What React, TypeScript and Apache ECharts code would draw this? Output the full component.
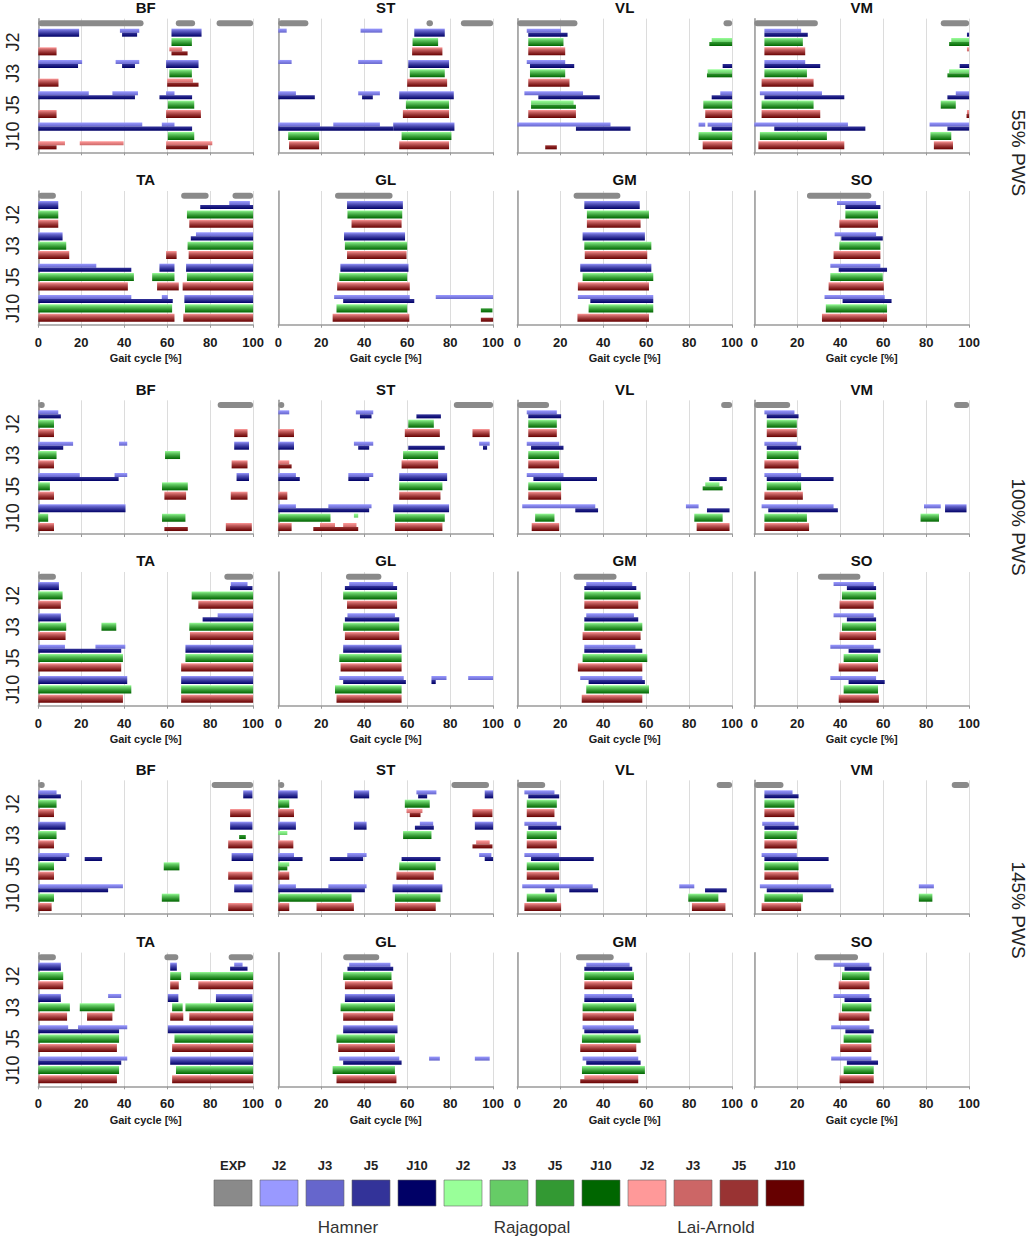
import React, { useEffect, useRef } from "react";
import * as echarts from "echarts";

type Seg = number[];

const SPEEDS = ["55% PWS", "100% PWS", "145% PWS"];
const MUSCLES_UPPER = ["BF", "ST", "VL", "VM"];
const MUSCLES_LOWER = ["TA", "GL", "GM", "SO"];
const JOINTS = ["J2", "J3", "J5", "J10"];
const MODELS = ["Hamner", "Rajagopal", "Lai-Arnold"];
const X_TICKS = [0, 20, 40, 60, 80, 100];
const X_LABEL = "Gait cycle [%]";
const EXP_COLOR = "#8a8a8a";
const MODEL_SHADES = [
  ["#9999ff", "#6666cc", "#333399", "#000066"],
  ["#99ff99", "#66cc66", "#339933", "#006600"],
  ["#ff9999", "#cc6666", "#993333", "#660000"],
];

// Each panel: 13 rows = [EXP, J2 H/R/L, J3 H/R/L, J5 H/R/L, J10 H/R/L]
// Segment: [start, end] full bar; [start, end, 1] upper (light) half; [start, end, 2] lower (dark) half
// ---------- 55% PWS ----------
const BF_55: Seg[][] = [
  [[0, 49], [64, 73], [83, 100]],
  [[0, 19], [38, 47, 1], [39, 46, 2], [62, 76]],
  [[62, 71.5]],
  [[0, 8.5], [61, 67, 1], [62, 69.5, 2]],
  [[0, 20.4, 1], [0, 18.5, 2], [36, 47, 1], [39, 45, 2], [59.5, 74.6]],
  [[61, 71.5]],
  [[0, 9.4], [60, 72, 1], [60, 74.6, 2]],
  [[0, 23.5, 1], [34.5, 46.4, 1], [0, 45, 2], [59.5, 63.4, 1], [56.4, 71.6, 2]],
  [[60.3, 72.6]],
  [[0, 8.5], [59.5, 75.7]],
  [[0, 48.4, 1], [57.5, 63.4, 1], [0, 71.6, 2]],
  [[60.3, 72.6]],
  [[0, 12.4, 1], [0, 8.5, 2], [19.3, 39.7, 1], [59.5, 81, 1], [59.5, 79, 2]],
];
const ST_55: Seg[][] = [
  [[0, 14], [69, 72], [85, 100]],
  [[0, 3.9, 1], [38.3, 48.4, 1], [63.3, 77.5]],
  [[62.5, 74.4]],
  [[62.3, 76.4]],
  [[0, 6.2, 1], [37.2, 48.4, 1], [60.5, 79.5]],
  [[61.2, 77.5]],
  [[60, 78.6]],
  [[0, 8.2, 1], [0, 17, 2], [37.2, 47.3, 1], [39, 44, 2], [56.3, 81.7]],
  [[59.4, 79.5]],
  [[58, 79.5]],
  [[0, 19.4, 1], [25.6, 47.3, 1], [0, 53.5, 2], [53.5, 82]],
  [[4.6, 19], [57.4, 80.6]],
  [[5, 19], [56.3, 79.5]],
];
const VL_55: Seg[][] = [
  [[0, 28], [96, 100]],
  [[4.4, 20.3, 1], [5.1, 23.4, 2]],
  [[5.1, 21.5], [90.5, 100, 1], [89.4, 100, 2]],
  [[5.1, 22.3]],
  [[4.4, 22.3, 1], [5.9, 26.5, 2], [95.6, 100, 2]],
  [[5.9, 22.3], [88.6, 100, 1], [88.3, 100, 2]],
  [[5.1, 24.3]],
  [[3.3, 30.6, 1], [9.8, 38.4, 2], [94.5, 100, 1], [90.5, 100, 2]],
  [[6.4, 26.2, 1], [6.4, 27.3, 2], [86.6, 100]],
  [[5.1, 27.3], [87.5, 100]],
  [[0, 43.4, 1], [27.3, 52.7, 2], [84.4, 87.5, 1], [88.6, 100, 1], [90.5, 100, 2]],
  [[84.4, 100]],
  [[13, 18.4, 2], [86.3, 100]],
];
const VM_55: Seg[][] = [
  [[0, 29.6], [86.8, 100]],
  [[4.7, 21.8, 1], [4.7, 24.9, 2], [99, 100, 2]],
  [[4.7, 22.6], [91.7, 100, 1], [90.7, 100, 2]],
  [[4.7, 23.7], [99, 100, 1]],
  [[4.7, 23.7, 1], [4.7, 30.7, 2], [95.6, 100, 2]],
  [[4.7, 24.5], [90.7, 100, 1], [89.9, 100, 2]],
  [[3.4, 27.6]],
  [[2.6, 31.5, 1], [4.7, 41.9, 2], [93.8, 100, 1], [89.9, 100, 2]],
  [[3.4, 27.6], [86.8, 93.8]],
  [[3.4, 30.7], [99, 100, 1], [98.8, 100, 2]],
  [[0, 43.6, 1], [9.3, 51.7, 2], [81.6, 100, 1], [89.9, 100, 2]],
  [[2.6, 33.8], [82, 91.7]],
  [[1.9, 41.9], [83.6, 92.5]],
];
const TA_55: Seg[][] = [
  [[0, 8.2], [66.5, 79.3], [90.4, 100]],
  [[0, 9.3], [88.9, 98.5, 1], [75.4, 100, 2]],
  [[0, 9.3], [69.2, 100]],
  [[0, 9.3], [70.3, 100]],
  [[0, 11.3], [73.4, 100, 1], [71, 100, 2]],
  [[0, 13], [69.5, 100]],
  [[0, 14.4], [59.5, 64.4], [70, 100]],
  [[0, 27, 1], [0, 43.3, 2], [56.4, 63.4], [68.8, 100]],
  [[0, 44.5], [53, 63.4], [69.2, 100]],
  [[0, 41.7], [55.3, 65.4], [67.2, 100]],
  [[0, 43.3, 1], [57.5, 60.3, 1], [0, 62.6, 2], [68, 100]],
  [[0, 62.3], [68.3, 100]],
  [[0, 63.4], [67.5, 100]],
];
const GL_55: Seg[][] = [
  [[26.4, 53.2]],
  [[32, 58]],
  [[32.2, 57.7]],
  [[34.1, 57.4]],
  [[30.6, 59]],
  [[31, 60]],
  [[32, 59.7]],
  [[28.9, 60.6]],
  [[28.4, 60]],
  [[27.4, 61.2]],
  [[26, 61.2, 1], [30.2, 63.3, 2], [73.3, 100, 1]],
  [[27.1, 60], [94.3, 99.7, 2]],
  [[25.3, 61], [94.3, 100, 2]],
];
const GM_55: Seg[][] = [
  [[26.2, 48]],
  [[31.2, 57]],
  [[32.4, 61.3]],
  [[32.4, 57.4]],
  [[30.4, 59.4]],
  [[31.2, 62.4]],
  [[31.4, 60.5]],
  [[29.3, 62.4]],
  [[30.4, 63.3]],
  [[28.2, 61.3]],
  [[28.2, 63.3, 1], [34, 63.3, 2]],
  [[33.2, 63.3]],
  [[28, 61.3]],
];
const SO_55: Seg[][] = [
  [[24.5, 54.5]],
  [[38.5, 56.7, 1], [42.4, 58.7, 2]],
  [[42.4, 57.6]],
  [[39.6, 57.6]],
  [[37.4, 56.7, 1], [40.5, 59.8, 2]],
  [[39.6, 58.7]],
  [[36.9, 58.7]],
  [[35.4, 58.7, 1], [39.3, 61.8, 2]],
  [[35.4, 59.8]],
  [[34.6, 60.3]],
  [[32.7, 60.7, 1], [41.1, 63.9, 2]],
  [[33.3, 61.8]],
  [[31.5, 61.8]],
];
// ---------- 100% PWS ----------
const BF_100: Seg[][] = [
  [[0, 3], [83.5, 100]],
  [[0, 9.3, 1], [0, 10.5, 2]],
  [[0, 7.3]],
  [[0, 7.3], [91.2, 97.4]],
  [[0, 16.2, 1], [0, 11.6, 2], [37.6, 41.4, 1], [91.2, 98.1]],
  [[0, 8.5], [59, 66]],
  [[0, 7.3], [90, 97.4]],
  [[0, 19.3, 1], [35.5, 41.4, 1], [0, 37.4, 2], [92.3, 98.1]],
  [[0, 5.4], [57.6, 69.6]],
  [[0, 7.3], [58.7, 68.8], [89.6, 97.4]],
  [[0, 40.6]],
  [[0, 4.6], [57.6, 68.5]],
  [[0, 7.3], [58.7, 69.6, 2], [87.3, 99.4]],
];
const ST_100: Seg[][] = [
  [[0, 2], [81.7, 100]],
  [[0, 5.1, 1], [36.1, 44.2, 1], [38, 43.4, 2], [64.3, 75.7, 2]],
  [[60.5, 72.4]],
  [[0, 7.3], [58.9, 75.2], [90.4, 98.4]],
  [[0, 7.3], [35.2, 44.2, 1], [37.2, 42.3, 2], [60.5, 77.5, 2], [93.5, 98.4, 1], [95.3, 97.2, 2]],
  [[58.1, 74.4]],
  [[0, 5.1, 1], [0, 6.2, 2], [57.4, 74.4]],
  [[0, 8.2, 1], [0, 10, 2], [32.6, 44.2, 1], [32.6, 42.3, 2], [56.3, 78.6]],
  [[56.3, 76.4]],
  [[0, 4.2], [56.3, 75.5]],
  [[0, 8.2, 1], [23.3, 43.4, 1], [0, 42.3, 2], [53.5, 79.5]],
  [[0, 24.3], [35.2, 37.2, 1], [54.3, 77.5]],
  [[0, 6.2], [19.4, 26.4, 1], [30.2, 36.4, 1], [16.3, 37.2, 2], [54.3, 76.4]],
];
const VL_100: Seg[][] = [
  [[0, 14.8], [94.9, 100]],
  [[4.4, 18.4, 1], [5.1, 20.4, 2]],
  [[5.1, 18.4]],
  [[5.1, 18.4]],
  [[4.4, 19.5, 1], [6.4, 21.5, 2]],
  [[5.1, 19.5]],
  [[5.1, 19.5]],
  [[4.4, 21.5, 1], [7.5, 37.1, 2], [89.4, 97.5, 2]],
  [[5.1, 20.4], [87.5, 94.1, 1], [86.3, 95.6, 2]],
  [[5.1, 20.4]],
  [[2.3, 36.3, 1], [27, 37.6, 2], [78.5, 84.4, 1], [88.3, 98.8, 2]],
  [[8.3, 17.3], [82.4, 95.6]],
  [[6.7, 19.5], [83.5, 98.8]],
];
const VM_100: Seg[][] = [
  [[0, 16.7], [93, 100]],
  [[4.7, 18.7, 1], [5.8, 20.6, 2]],
  [[5.8, 19.8]],
  [[5.8, 19.8]],
  [[4.7, 19.8, 1], [5.8, 21.8, 2]],
  [[5.8, 20.6]],
  [[4.7, 20.6]],
  [[4.7, 21.8, 1], [5.8, 36.9, 2]],
  [[5.8, 21.8]],
  [[4.7, 22.6]],
  [[3.4, 36.9, 1], [6.5, 38.9, 2], [79, 86.8, 1], [88.8, 98.8]],
  [[4.7, 24.5], [77.4, 86]],
  [[4.7, 25.5]],
];
const TA_100: Seg[][] = [
  [[0, 8.2], [86.6, 100]],
  [[0, 9.6], [89.6, 97.4, 1], [89.3, 99.7, 2]],
  [[0, 11.3], [71.4, 100]],
  [[0, 10.5], [74.5, 100]],
  [[0, 10.5], [83.5, 100, 1], [76.5, 100, 2]],
  [[0, 13], [29.4, 36.3], [70.3, 100]],
  [[0, 12.7], [70.6, 100]],
  [[0, 12.4, 1], [26.6, 40.5, 1], [0, 38.6, 2], [68.5, 100]],
  [[0, 39.4], [68.5, 100]],
  [[0, 38.6], [66.5, 100]],
  [[0, 41.4], [66.5, 100]],
  [[0, 43.3], [66.5, 100]],
  [[0, 39.4], [66.5, 100]],
];
const GL_100: Seg[][] = [
  [[31.5, 48]],
  [[33, 53.5, 1], [31, 55.3, 2]],
  [[30.2, 55.3]],
  [[32, 55.3]],
  [[32.2, 54.3, 1], [31, 56.3, 2]],
  [[30.2, 56.3]],
  [[31, 56.3]],
  [[30.2, 57.4]],
  [[28.4, 57.4]],
  [[29, 57.4]],
  [[28.4, 58.4, 1], [30.2, 59.4, 2], [71.3, 78.3, 1], [71.3, 73.3, 2], [88.4, 100, 1]],
  [[26.4, 57.4]],
  [[27.1, 57.4]],
];
const GM_100: Seg[][] = [
  [[26.2, 46.2]],
  [[32.1, 53.5, 1], [31.2, 55.4, 2]],
  [[31.2, 57.4]],
  [[31.2, 56.3]],
  [[32.1, 54.3, 1], [31.2, 56.3, 2]],
  [[31.2, 58.2]],
  [[30.4, 57.4]],
  [[31.2, 55, 1], [31.2, 58.2, 2]],
  [[30.4, 60.5]],
  [[28.2, 58.2]],
  [[29.3, 58.2, 1], [33.2, 59.4, 2]],
  [[32.1, 61.3]],
  [[30, 58.2]],
];
const SO_100: Seg[][] = [
  [[29.6, 49.4]],
  [[36.9, 55.6, 1], [43.1, 56.7, 2]],
  [[40.8, 56.7]],
  [[39.7, 55.6]],
  [[36.9, 55.6, 1], [43.1, 56.7, 2]],
  [[40.8, 56.7]],
  [[39.7, 56.7]],
  [[35.4, 55.6, 1], [43.9, 58.7, 2]],
  [[41.6, 57.6]],
  [[39.3, 57.6]],
  [[35.4, 56.7, 1], [43.9, 60.7, 2]],
  [[41.6, 57.6]],
  [[39.3, 58]],
];
// ---------- 145% PWS ----------
const BF_145: Seg[][] = [
  [[0, 3], [80.7, 100]],
  [[0, 8.5, 1], [0, 10.5, 2], [95.4, 99.7]],
  [[0, 8.5]],
  [[0, 7.3], [89.3, 98.9]],
  [[0, 12.7], [89.3, 99.7]],
  [[0, 8.5], [93.5, 96.6, 2]],
  [[0, 7.3], [88.4, 99.7]],
  [[0, 14.4, 1], [0, 13, 2], [21.6, 29.7, 2], [90, 100]],
  [[0, 7.3], [58.4, 65.7]],
  [[0, 7.3], [88.4, 99.7]],
  [[0, 39.4, 1], [0, 32.5, 2], [91.2, 99.7]],
  [[0, 7.3], [57.5, 65.7]],
  [[0, 6.2], [88.4, 99.7]],
];
const ST_145: Seg[][] = [
  [[0, 2], [80.6, 98.1]],
  [[0, 9], [35.2, 42.3], [64.3, 73.6, 1], [65.1, 69.3, 2], [96.1, 100]],
  [[0, 5.1], [58.9, 70.5]],
  [[0, 7.3], [59.7, 67.1, 1], [61.2, 66.2, 2], [90.4, 99.7]],
  [[0, 8.2], [35.2, 41.1], [65.9, 72.1, 1], [63.6, 72.4, 2], [91.5, 100]],
  [[0, 4.2, 1], [58.1, 71.3]],
  [[0, 7], [92.1, 98.4, 1], [90.4, 99.7, 2]],
  [[0, 7.3, 1], [0, 11.3, 2], [32.1, 41.1, 1], [24, 39.5, 2], [57.4, 75.5, 2], [93.5, 99.2, 1], [96.1, 100, 2]],
  [[0, 5.1, 1], [0, 4.2, 2], [56.3, 73.3]],
  [[0, 5.1], [55, 72.4]],
  [[0, 8.2, 1], [23.3, 41.1, 1], [0, 40.3, 2], [53.2, 76.4]],
  [[0, 34.1], [54.3, 75.5]],
  [[0, 5.1], [17.8, 35.2], [54.3, 73.3]],
];
const VL_145: Seg[][] = [
  [[0, 13], [92.8, 100]],
  [[3.3, 17.3, 1], [5.1, 19.5, 2]],
  [[4.4, 18.4]],
  [[4.4, 17.3]],
  [[3.3, 18.4, 1], [5.1, 20.4, 2]],
  [[4.4, 18.4]],
  [[4.4, 18.4]],
  [[3.3, 19.5, 1], [6.4, 35.6, 2]],
  [[4.4, 19.5]],
  [[4.4, 19.5]],
  [[2.3, 35.1, 1], [13, 17.3, 2], [24.2, 37.6, 2], [75.4, 82.4, 1], [87.4, 97.5, 2]],
  [[4.4, 18.4], [79.6, 93.6]],
  [[3.3, 20.4], [81.3, 96.9]],
];
const VM_145: Seg[][] = [
  [[0, 13.6], [91.9, 100]],
  [[4.7, 17.8, 1], [4.7, 20.6, 2]],
  [[4.7, 18.7]],
  [[4.7, 18.7]],
  [[3.7, 18.7, 1], [4.7, 20.6, 2]],
  [[4.7, 19.8]],
  [[4.7, 19.8]],
  [[3.4, 19.8, 1], [4.7, 34.6, 2]],
  [[4.7, 20.6]],
  [[4.7, 20.6]],
  [[2.6, 35.8, 1], [5.8, 36.9, 2], [76.6, 83.6, 1]],
  [[4.7, 22.6], [76.6, 82.9]],
  [[3.4, 21.8]],
];
const TA_145: Seg[][] = [
  [[0, 8.2], [58.7, 65.2], [88.6, 100]],
  [[0, 10.5], [61.4, 64.5], [91.2, 95.1, 1], [89.3, 97.4, 2]],
  [[0, 11.6], [61.4, 66.5], [70.6, 100]],
  [[0, 11.6], [61.4, 65.4], [74.5, 100]],
  [[0, 10.5], [32.5, 38.6, 1], [60.3, 65.2], [82.7, 99.7]],
  [[0, 14.7], [19.3, 35.5], [62.3, 67.2], [68.5, 100]],
  [[0, 13.4], [22.7, 34.5], [61.4, 67.5], [70.3, 100]],
  [[0, 13.9, 1], [18.5, 41.4, 1], [0, 37.6, 2], [60.3, 100]],
  [[0, 37.6], [63.4, 100]],
  [[0, 36.6], [62.3, 100]],
  [[0, 41.4, 1], [0, 38.6, 2], [61.4, 100]],
  [[0, 37.6], [64.1, 100]],
  [[0, 36.6], [62.3, 100]],
];
const GL_145: Seg[][] = [
  [[30.2, 47]],
  [[33, 52.2, 1], [32.2, 53.5, 2]],
  [[30.2, 52.7]],
  [[31, 53.2]],
  [[31, 54.3]],
  [[29, 54.3]],
  [[30.2, 53.5]],
  [[30.2, 55.5]],
  [[27.1, 54.3]],
  [[27.9, 54.3]],
  [[28.4, 56.3, 1], [30.2, 57.4, 2], [70.2, 75.2, 1], [91.5, 98.4, 1]],
  [[25.3, 54.3]],
  [[27.1, 55]],
];
const GM_145: Seg[][] = [
  [[27.3, 44.9]],
  [[32.1, 52.3, 1], [31.2, 53.5, 2]],
  [[31.2, 54.3]],
  [[31.2, 53.5]],
  [[31.2, 53.5, 1], [31.2, 54.3, 2]],
  [[30.4, 55.4]],
  [[30.4, 54.3]],
  [[30.4, 54.3, 1], [31.2, 56.3, 2]],
  [[30.1, 57.4]],
  [[29.3, 55.4]],
  [[30.4, 56.3, 1], [32.1, 57.4, 2]],
  [[30.1, 59.4]],
  [[31.2, 56.3, 1], [29.3, 56.3, 2]],
];
const SO_145: Seg[][] = [
  [[28, 48.3]],
  [[36.9, 53.6, 1], [42, 54.5, 2]],
  [[40.8, 53.6]],
  [[39.3, 53.6]],
  [[36.9, 53.6, 1], [42, 54.5, 2]],
  [[40.8, 54.5]],
  [[39.3, 53.6]],
  [[35.8, 53.6, 1], [42.4, 55.6, 2]],
  [[41.6, 54.5]],
  [[40, 54.5]],
  [[35.8, 54.5, 1], [43.1, 57.6, 2]],
  [[41.6, 55.6]],
  [[39.7, 55.6]],
];

const PANEL_ROWS: Seg[][][][] = [
  [BF_55, ST_55, VL_55, VM_55],
  [TA_55, GL_55, GM_55, SO_55],
  [BF_100, ST_100, VL_100, VM_100],
  [TA_100, GL_100, GM_100, SO_100],
  [BF_145, ST_145, VL_145, VM_145],
  [TA_145, GL_145, GM_145, SO_145],
];

// ---------- layout ----------
const FONT = "'Liberation Sans', Arial, sans-serif";
const U = 9.35; // px per row unit
const ROW_Y0 = [23.3, 195.7, 405, 576.7, 785, 957.3]; // EXP row centre per panel row
const COL_LEFT = [38.3, 278.3, 517.3, 754.3];
const PLOT_W = 214.8;
const Y_MIN = -0.5;
const Y_MAX = 13.8;
const GROUP_STEP = 3.35;
const SPEED_Y = [153, 527, 910];
const SPEED_X = 1018;

const rowPos = (k: number) =>
  k === 0 ? 0 : 1 + Math.floor((k - 1) / 3) * GROUP_STEP + ((k - 1) % 3);

function renderBar(_params: any, api: any) {
  const s = api.value(0);
  const e = api.value(1);
  const pos = api.value(2);
  const model = api.value(3);
  const part = api.value(4);
  const a = api.coord([s, pos]);
  const b = api.coord([e, pos]);
  const unit = Math.abs(api.size([0, 1])[1]);
  if (model < 0) {
    const h = 6;
    const w = Math.max(b[0] - a[0], h);
    return {
      type: "rect",
      shape: { x: a[0], y: a[1] - h / 2, width: w, height: h, r: h / 2 },
      style: { fill: EXP_COLOR },
    };
  }
  const sh = MODEL_SHADES[model];
  const h = unit * 0.86;
  let y = a[1] - h / 2;
  let hh = h;
  let stops;
  if (part === 1) {
    hh = h / 2;
    stops = [
      { offset: 0, color: sh[0] },
      { offset: 1, color: sh[1] },
    ];
  } else if (part === 2) {
    y = a[1];
    hh = h / 2;
    stops = [
      { offset: 0, color: sh[2] },
      { offset: 1, color: sh[3] },
    ];
  } else {
    stops = [
      { offset: 0, color: sh[0] },
      { offset: 0.25, color: sh[1] },
      { offset: 0.6, color: sh[2] },
      { offset: 1, color: sh[3] },
    ];
  }
  return {
    type: "rect",
    shape: { x: a[0], y, width: Math.max(b[0] - a[0], 1), height: hh },
    style: { fill: new echarts.graphic.LinearGradient(0, 0, 0, 1, stops) },
  };
}

function buildOption() {
  const grid: any[] = [];
  const xAxis: any[] = [];
  const yAxis: any[] = [];
  const series: any[] = [];
  const graphic: any[] = [];

  PANEL_ROWS.forEach((panels, r) => {
    const bottom = r % 2 === 1;
    const titles = r % 2 === 0 ? MUSCLES_UPPER : MUSCLES_LOWER;
    panels.forEach((rows, c) => {
      const p = grid.length;
      grid.push({
        left: COL_LEFT[c],
        top: ROW_Y0[r] + Y_MIN * U,
        width: PLOT_W,
        height: (Y_MAX - Y_MIN) * U,
        containLabel: false,
      });
      xAxis.push({
        type: "value",
        gridIndex: p,
        min: X_TICKS[0],
        max: X_TICKS[X_TICKS.length - 1],
        interval: X_TICKS[1] - X_TICKS[0],
        axisLine: { show: true, onZero: false, lineStyle: { color: "#9a9a9a", width: 1.5 } },
        axisTick: { show: true, length: 3, lineStyle: { color: "#9a9a9a" } },
        splitLine: { show: true, lineStyle: { color: "#dcdcdc", width: 1 } },
        axisLabel: {
          show: bottom,
          fontSize: 13,
          fontWeight: "bold",
          color: "#1a1a1a",
          margin: 11,
          fontFamily: FONT,
          showMinLabel: true,
          showMaxLabel: true,
        },
        name: bottom ? X_LABEL : "",
        nameLocation: "middle",
        nameGap: 28,
        nameTextStyle: { fontSize: 11, fontWeight: "bold", color: "#1a1a1a", fontFamily: FONT },
      });
      yAxis.push({
        type: "value",
        gridIndex: p,
        min: Y_MIN,
        max: Y_MAX,
        inverse: true,
        axisLine: { show: true, onZero: false, lineStyle: { color: "#9a9a9a", width: 1.5 } },
        axisTick: { show: false },
        axisLabel: { show: false },
        splitLine: { show: false },
      });
      const data: number[][] = [];
      rows.forEach((segs, k) => {
        segs.forEach((sg) => {
          data.push([sg[0], sg[1], rowPos(k), k === 0 ? -1 : (k - 1) % 3, sg[2] || 0]);
        });
      });
      series.push({
        type: "custom",
        xAxisIndex: p,
        yAxisIndex: p,
        renderItem: renderBar,
        encode: { x: [0, 1], y: 2 },
        data,
        silent: true,
        clip: false,
      });
      graphic.push({
        type: "text",
        x: COL_LEFT[c] + PLOT_W / 2,
        y: ROW_Y0[r] - 16,
        style: {
          text: titles[c],
          fontSize: 15,
          fontWeight: "bold",
          fontFamily: FONT,
          fill: "#111",
          align: "center",
          verticalAlign: "middle",
        },
      });
    });
    JOINTS.forEach((j, g) => {
      graphic.push({
        type: "text",
        x: 13,
        y: ROW_Y0[r] + (2 + g * GROUP_STEP) * U,
        rotation: Math.PI / 2,
        style: {
          text: j,
          fontSize: 18,
          fontFamily: FONT,
          fill: "#222",
          align: "center",
          verticalAlign: "middle",
        },
      });
    });
  });

  SPEEDS.forEach((s, i) => {
    graphic.push({
      type: "text",
      x: SPEED_X,
      y: SPEED_Y[i],
      rotation: -Math.PI / 2,
      style: {
        text: s,
        fontSize: 19,
        fontFamily: FONT,
        fill: "#222",
        align: "center",
        verticalAlign: "middle",
      },
    });
  });

  // legend
  const keys = ["EXP", ...MODELS.flatMap(() => JOINTS)];
  const colors = [EXP_COLOR, ...MODEL_SHADES.flat()];
  const LX = 214;
  const PITCH = 46;
  const BW = 38;
  keys.forEach((k, i) => {
    const x = LX + i * PITCH;
    graphic.push({
      type: "rect",
      shape: { x, y: 1180, width: BW, height: 26 },
      style: { fill: colors[i], stroke: "#666", lineWidth: 0.6 },
    });
    graphic.push({
      type: "text",
      x: x + BW / 2,
      y: 1165,
      style: {
        text: k,
        fontSize: 13,
        fontWeight: "bold",
        fontFamily: FONT,
        fill: "#222",
        align: "center",
        verticalAlign: "middle",
      },
    });
  });
  MODELS.forEach((m, i) => {
    graphic.push({
      type: "text",
      x: LX + (1 + i * 4 + 1.5) * PITCH + BW / 2,
      y: 1227,
      style: {
        text: m,
        fontSize: 17,
        fontFamily: FONT,
        fill: "#333",
        align: "center",
        verticalAlign: "middle",
      },
    });
  });

  return {
    animation: false,
    backgroundColor: "#ffffff",
    textStyle: { fontFamily: FONT },
    grid,
    xAxis,
    yAxis,
    series,
    graphic,
  };
}

export default function App() {
  const ref = useRef<HTMLDivElement>(null);
  useEffect(() => {
    if (!ref.current) return;
    const chart = echarts.init(ref.current, undefined, { renderer: "svg" });
    chart.setOption(buildOption() as any);
    return () => chart.dispose();
  }, []);
  return (
    <div
      ref={ref}
      style={{ position: "absolute", left: 0, top: 0, width: 1031, height: 1239, background: "#fff" }}
    />
  );
}
